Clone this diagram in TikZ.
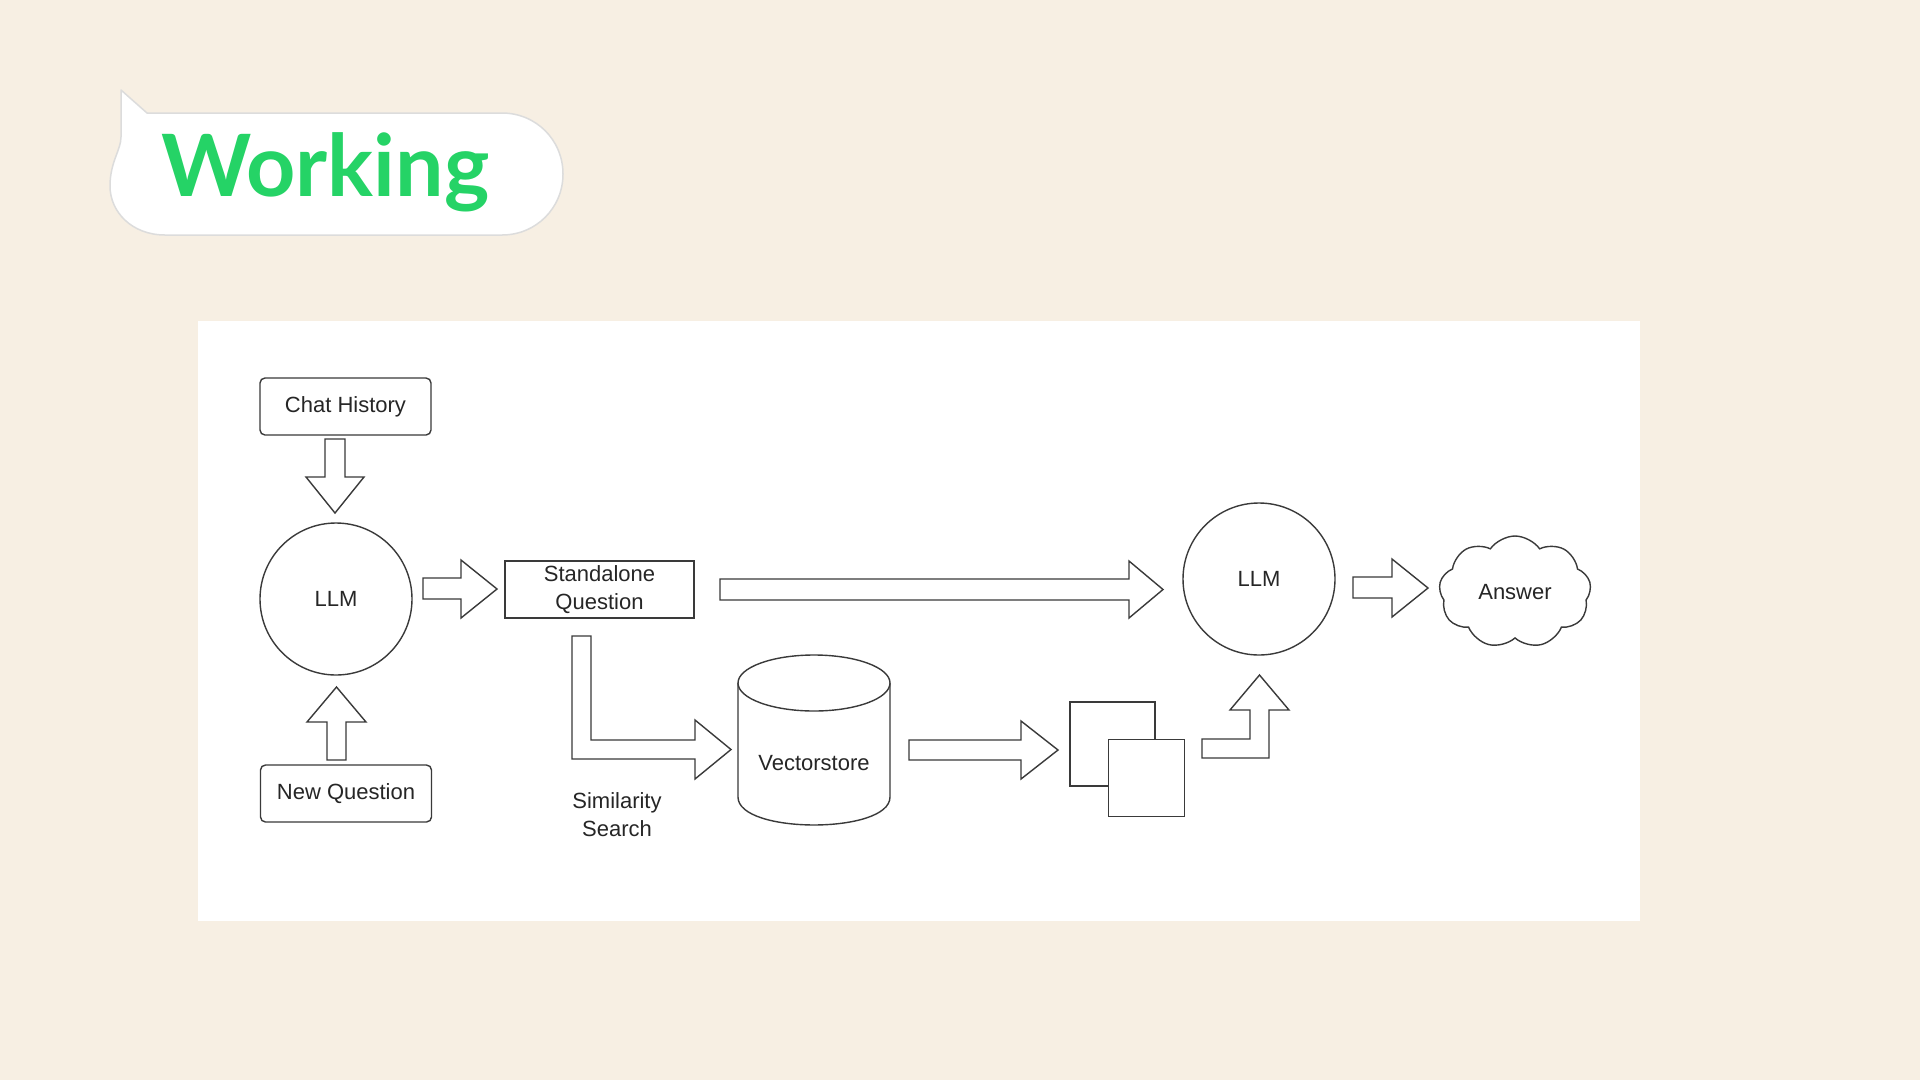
\documentclass[tikz,border=0pt]{standalone}
\usepackage{fontspec}
\setmainfont{Liberation Sans}
\newfontfamily\latofont{Lato}
\usetikzlibrary{shapes.symbols}
\definecolor{bg}{HTML}{F7EFE3}
\definecolor{wagreen}{HTML}{25D366}
\definecolor{lnc}{HTML}{3A3A3A}
\definecolor{bubbleln}{HTML}{DCDCDC}
\begin{document}
\begin{tikzpicture}[x=1pt,y=-1pt,
  ln/.style={draw=lnc, line width=1.4pt},
  blk/.style={ln, fill=white, line join=miter},
  lbl/.style={font=\fontsize{22}{28}\selectfont, text=black!85, align=center, inner sep=0pt},
  box/.style={ln, fill=white, minimum width=171pt, minimum height=57pt, inner sep=0pt, lbl},
  llm/.style={ln, circle, fill=white, minimum size=152pt, inner sep=0pt, lbl},
  doc/.style={draw=lnc, line width=1.1pt, fill=white, inner sep=0pt}
]
\useasboundingbox (0,0) rectangle (1920,1080);
\fill[bg] (0,0) rectangle (1920,1080);

% speech bubble title
\draw[fill=white, draw=bubbleln, line width=1.5pt, line join=round]
  (121,90) -- (147,113) -- (502,113)
  .. controls (536,113) and (563,140) .. (563,174)
  .. controls (563,208) and (536,235) .. (502,235)
  -- (165,235)
  .. controls (132,235) and (110,212) .. (110,186)
  .. controls (110,162) and (121,150) .. (121,137) -- cycle;
\node[anchor=base west, text=wagreen, font=\latofont\bfseries\fontsize{86}{92}\selectfont, inner sep=0pt] (title) at (161,196) {Working};

% white panel
\fill[white] (198,321) rectangle (1640,921);

% nodes
\node[box, rounded corners=5pt] (chat) at (345.5,406.5) {Chat History};
\node[box, rounded corners=5pt] (newq) at (346,793.5) {New Question};
\node[llm] (llmA) at (336,599) {LLM};
\node[box, minimum width=189pt] (sq) at (599.5,589.5) {Standalone\\Question};
\node[llm] (llmB) at (1259,579) {LLM};
\node[ln, cloud, cloud puffs=9, cloud puff arc=110, aspect=1.45, minimum width=152pt, minimum height=112pt, inner sep=0pt, lbl] (ans) at (1515,592) {Answer};

% vectorstore cylinder
\draw[ln, fill=white] (738,683) -- (738,797) .. controls (738,834.3) and (890,834.3) .. (890,797) -- (890,683);
\draw[ln, fill=white] (814,683) ellipse [x radius=76pt, y radius=28pt];
\node[lbl] (vs) at (814,763) {Vectorstore};

% documents
\node[doc, minimum width=85pt, minimum height=84pt] (docA) at (1112.5,744) {};
\node[doc, minimum width=76pt, minimum height=77pt] (docB) at (1146.5,778) {};

\node[lbl] (sim) at (617,815) {Similarity\\Search};

% block arrows
\draw[blk] (325,439) -- (345,439) -- (345,477) -- (364,477) -- (335,513) -- (306,477) -- (325,477) -- cycle;
\draw[blk] (327,760) -- (346,760) -- (346,722) -- (366,722) -- (336.5,687) -- (307,722) -- (327,722) -- cycle;
\draw[blk] (423,578) -- (461,578) -- (461,560) -- (497,589) -- (461,618) -- (461,599) -- (423,599) -- cycle;
\draw[blk] (720,579) -- (1129,579) -- (1129,561) -- (1163,589.5) -- (1129,618) -- (1129,600) -- (720,600) -- cycle;
\draw[blk] (1353,577) -- (1392,577) -- (1392,559) -- (1428,588) -- (1392,617) -- (1392,598) -- (1353,598) -- cycle;
\draw[blk] (909,740) -- (1021,740) -- (1021,721) -- (1058,750) -- (1021,779) -- (1021,760) -- (909,760) -- cycle;
\draw[blk] (572,636) -- (591,636) -- (591,740) -- (695,740) -- (695,720) -- (731,749.5) -- (695,779) -- (695,759) -- (572,759) -- cycle;
\draw[blk] (1202,739) -- (1250,739) -- (1250,710) -- (1230,710) -- (1259.5,675) -- (1289,710) -- (1269,710) -- (1269,758) -- (1202,758) -- cycle;
\end{tikzpicture}
\end{document}
